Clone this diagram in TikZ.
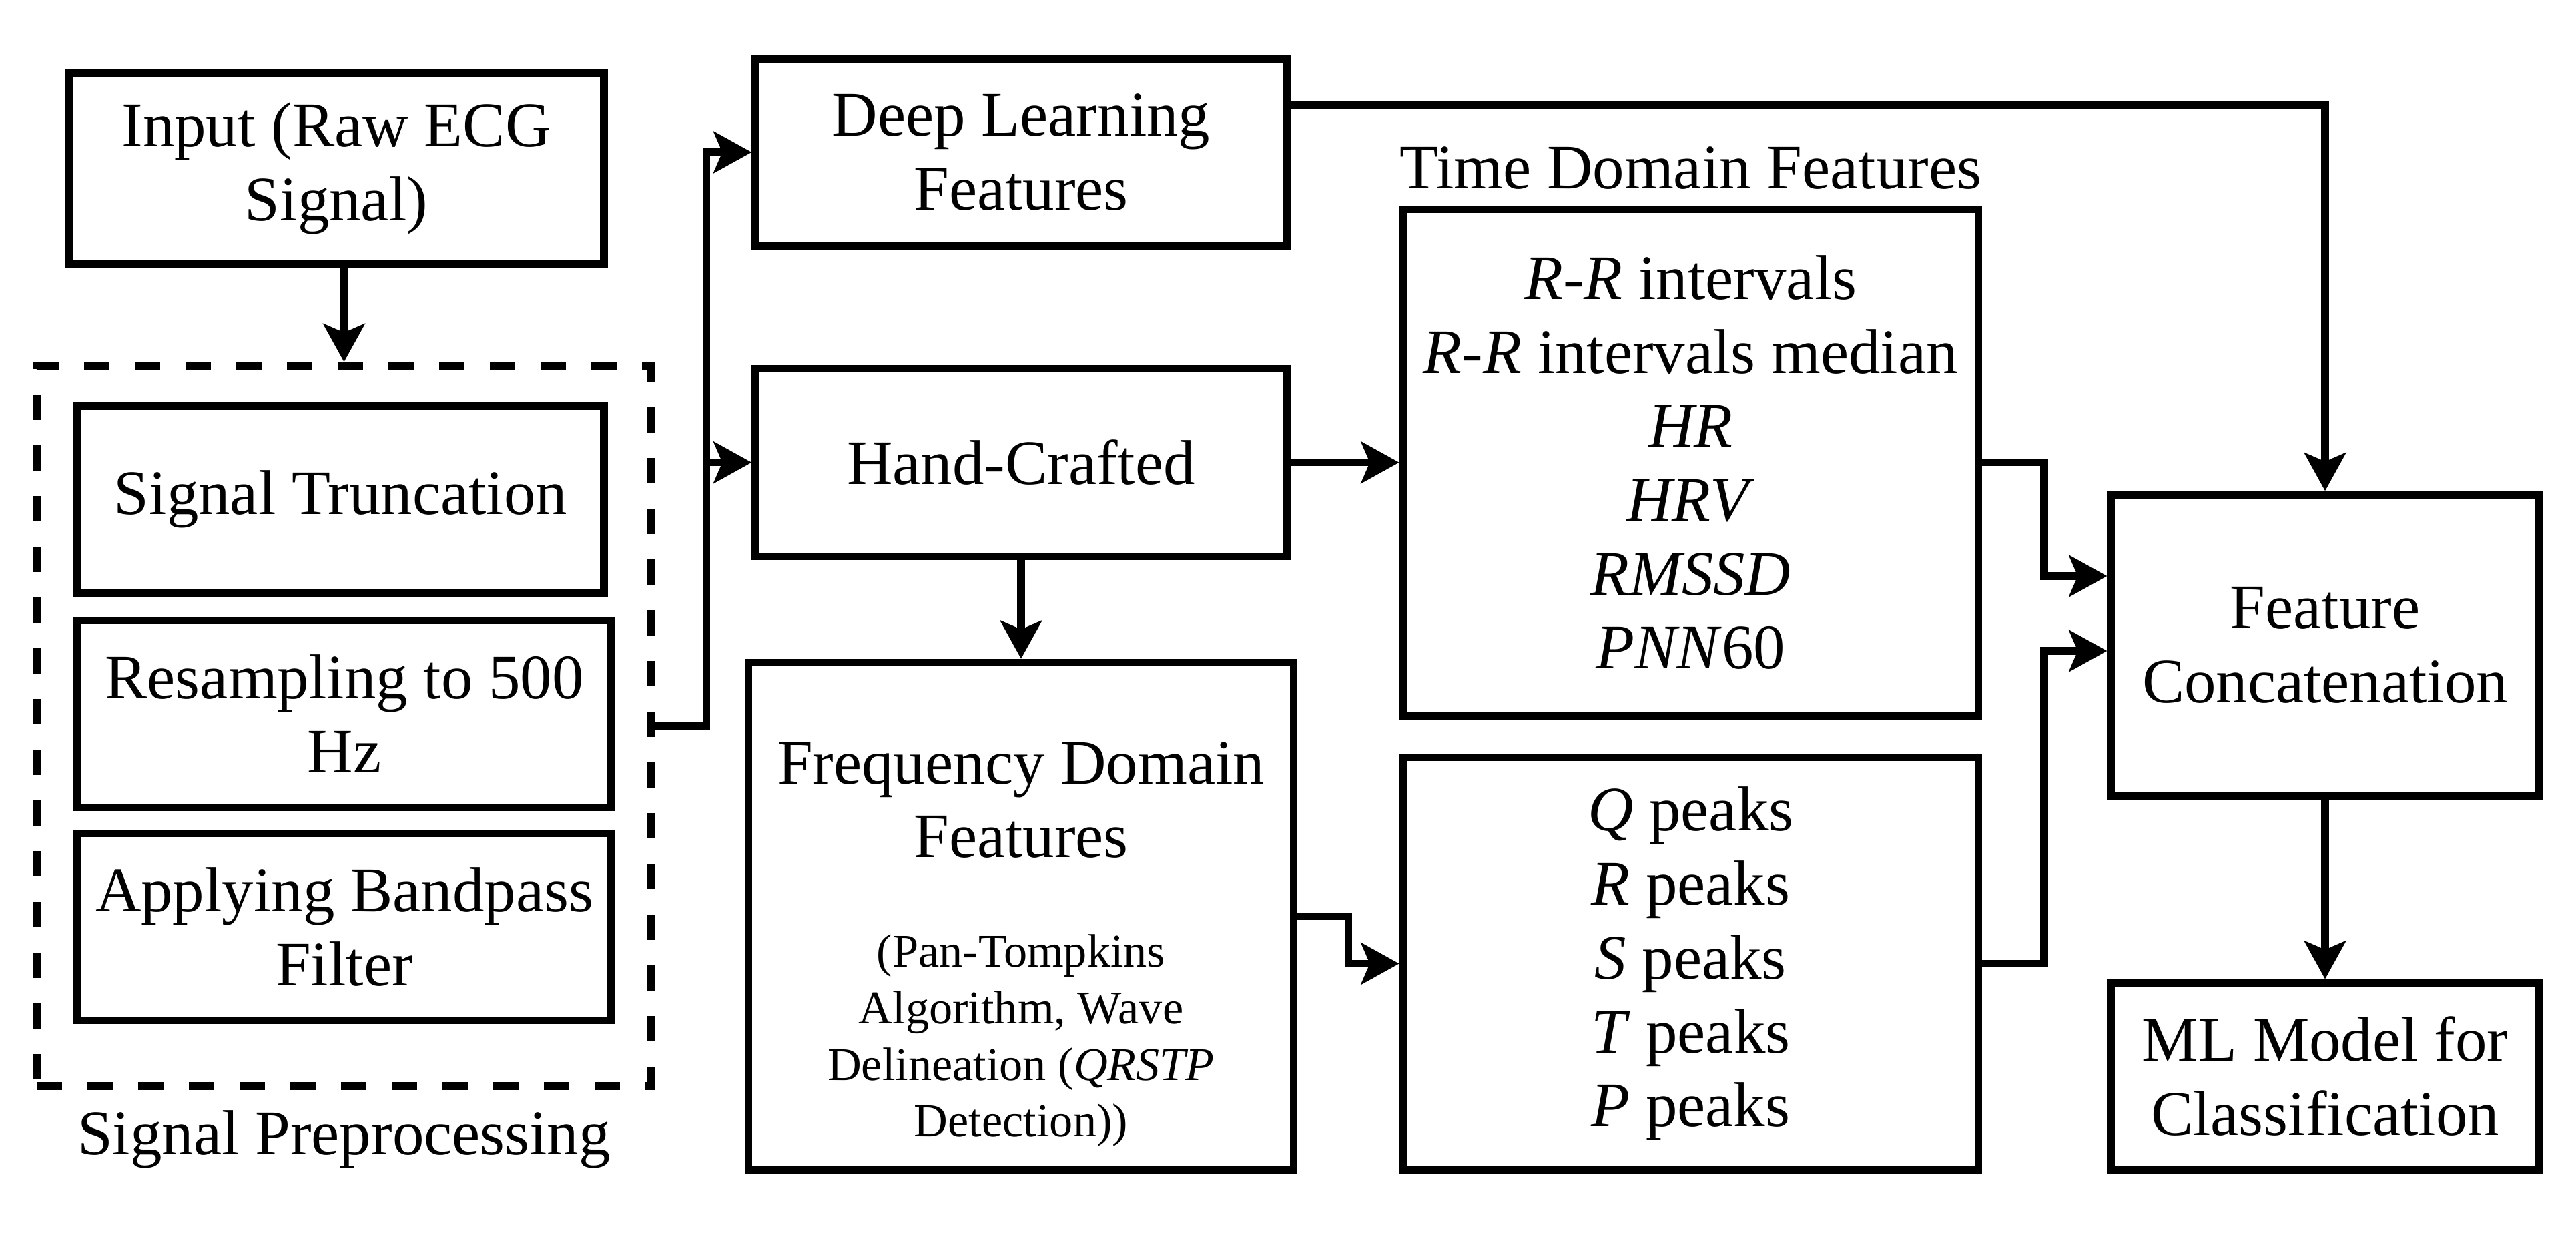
\documentclass[tikz,border=0pt]{standalone}
\usepackage{fontspec}
\setmainfont{Liberation Serif}
\usetikzlibrary{positioning,arrows.meta}
\newcommand{\finetext}[1]{{\fontsize{20pt}{24pt}\selectfont #1}}

\begin{document}
\begin{tikzpicture}[
  box/.style={rectangle,draw,line width=3.2pt,align=center,inner sep=0pt,
    font=\fontsize{27pt}{31.5pt}\selectfont},
  link/.style={line width=3.2pt,-{Stealth[length=0.57cm,width=0.62cm,inset=0.13cm]}}]
  \useasboundingbox (0,0) rectangle (38.6,18.76);
  % preprocessing column
  \node(input)[box,minimum width=8.02cm,minimum height=2.86cm] at (5.04,16.24){Input (Raw ECG\\Signal)};
  \node(trunc)[box,minimum width=7.89cm,minimum height=2.8cm] at (5.105,11.28){Signal Truncation};
  \node(resample)[box,minimum width=8cm,minimum height=2.8cm,below =0.3cm of trunc.south west,anchor=north west]{Resampling to 500\\Hz};
  \node(bandpass)[box,minimum width=8cm,minimum height=2.8cm,below =0.28cm of resample]{Applying Bandpass\\Filter};
  \node(prep)[rectangle,draw,line width=3.2pt,dash pattern=on 0.38cm off 0.38cm,minimum width=9.21cm,minimum height=10.79cm] at (5.155,7.885){};
  \node(preplabel)[below =0.3cm of prep,inner sep=0pt,font=\fontsize{27pt}{31.5pt}\selectfont]{Signal Preprocessing};
  % feature extraction
  \node(deep)[box,minimum width=7.96cm,minimum height=2.8cm] at (15.3,16.48){Deep Learning\\Features};
  \node(hand)[box,minimum width=7.96cm,minimum height=2.81cm,below =1.73cm of deep]{Hand-Crafted};
  \node(freq)[box,minimum width=8.17cm,minimum height=7.6cm,below =1.48cm of hand]{\rule{0pt}{1.47cm}Frequency Domain\\Features\\[0.53cm]
    \finetext{(Pan-Tompkins}\\[-0.26cm]\finetext{Algorithm, Wave}\\[-0.26cm]
    \finetext{Delineation (\textit{QRSTP}}\\[-0.26cm]\finetext{Detection))}};
  \node(td)[box,minimum width=8.62cm,minimum height=7.59cm,right =1.63cm of hand]{\textit{R-R} intervals\\\textit{R-R} intervals median\\\textit{HR}\\\textit{HRV}\\\textit{RMSSD}\\\textit{PNN}60};
  \node(tdlabel)[above =0.23cm of td,inner sep=0pt,font=\fontsize{27pt}{31.5pt}\selectfont]{Time Domain Features};
  \node(peaks)[box,minimum width=8.62cm,minimum height=6.18cm,below =0.51cm of td]{\textit{Q} peaks\\\textit{R} peaks\\\textit{S} peaks\\\textit{T} peaks\\\textit{P} peaks};
  % classification
  \node(concat)[box,minimum width=6.42cm,minimum height=4.51cm] at (34.84,9.095){Feature\\Concatenation};
  \node(ml)[box,minimum width=6.42cm,minimum height=2.8cm,below =2.69cm of concat]{ML Model for\\Classification};
  \coordinate(split) at ([xshift=0.77cm]prep.east);
  \coordinate(joint) at ([xshift=0.93cm]td.east);
  \coordinate(in1) at ([yshift=1.035cm]concat.west);
  \coordinate(in2) at ([yshift=-0.085cm]concat.west);
\draw[link](input.south -| prep.north)--(prep.north);
\draw[link](prep.east)--(split)|-(deep.west);
\draw[link](split)|-(hand.west);
\draw[link](hand.east)--(hand.east -| td.west);
\draw[link](hand)--(freq);
\draw[link](freq.east)--++(0.76,0)|-(peaks.west);
\draw[link]([yshift=0.7cm]deep.east)-|(concat);
\draw[link](td.east)-|(joint |- in1)--(in1);
\draw[link](peaks.east)-|(joint |- in2)--(in2);
\draw[link](concat)--(ml);
\end{tikzpicture}
\end{document}
